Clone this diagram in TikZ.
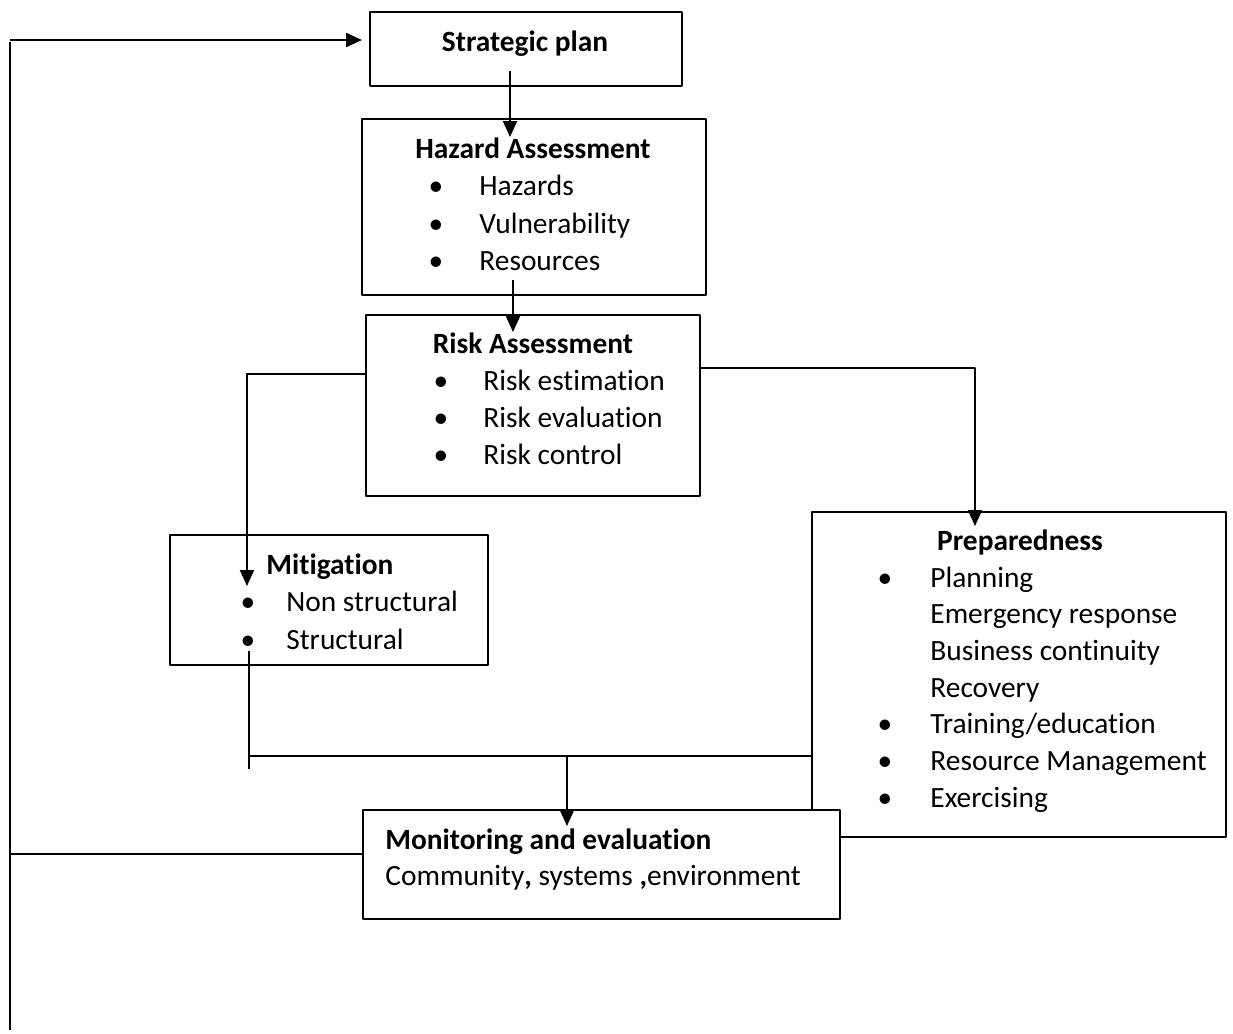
\documentclass[tikz,border=0pt]{standalone}
\usepackage{fontspec}
\setmainfont{Carlito}[Ligatures=NoCommon]
\usetikzlibrary{arrows.meta}

\begin{document}
\begin{tikzpicture}[line join=round,>={Triangle[length=8pt,width=7pt]},x=0.5pt,y=-0.5pt,
    box/.style={draw,line width=1pt,inner sep=0pt,fill=white},
    txt/.style={anchor=west,inner sep=0pt,font=\fontsize{14.7}{17}\selectfont,text height=12pt,text depth=3pt},
    ttl/.style={txt,font=\fontsize{14.7}{17}\selectfont\bfseries},
    bul/.style={inner sep=0pt,font=\fontsize{14.7}{17}\selectfont,text height=12pt,text depth=3pt},
    con/.style={line width=1pt}]
     \path[use as bounding box,fill=white] (0,0) rectangle (1233,1034); % Rahmen

     % Kaesten
     \node[box,minimum width=156pt,minimum height=37pt] (strat) at (526,49) {};
     \node[box,minimum width=172pt,minimum height=88pt] (haz) at (534,207) {};
     \node[box,minimum width=167pt,minimum height=90.5pt] (risk) at (533,405.5) {};
     \node[box,minimum width=159pt,minimum height=65pt] (mit) at (329,600) {};
     \node[box,minimum width=207pt,minimum height=162.5pt] (prep) at (1019,674.5) {};
     \node[box,minimum width=238.5pt,minimum height=54.5pt] (mon) at (601.5,864.5) {};

     % Texte
     \node[ttl,anchor=center] (stratT) at (525,42) {Strategic plan};
     \node[ttl,anchor=center] (hazT) at (533,149) {Hazard Assessment};
     \foreach \t [count=\i] in {Hazards,Vulnerability,Resources}
     {\node[bul] (hazB\i) at (436,149+37.5*\i) {\textbullet};
      \node[txt] (hazI\i) at (479,149+37.5*\i) {\t};}
     \node[ttl,anchor=center] (riskT) at (533,344) {Risk Assessment};
     \foreach \t [count=\i] in {Risk estimation,Risk evaluation,Risk control}
     {\node[bul] (riskB\i) at (441,344.5+37*\i) {\textbullet};
      \node[txt] (riskI\i) at (483,344.5+37*\i) {\t};}
     \node[ttl] (mitT) at (266,565) {Mitigation};
     \foreach \t [count=\i] in {Non structural,Structural}
     {\node[bul] (mitB\i) at (248,564+38*\i) {\textbullet};
      \node[txt] (mitI\i) at (286,564+38*\i) {\t};}
     \node[ttl,anchor=center] (prepT) at (1020,541) {Preparedness};
     \foreach \t [count=\i] in {Planning,Emergency response,Business continuity,Recovery,Training/education,Resource Management,Exercising}
     \node[txt] (prepI\i) at (930,541.3+36.7*\i) {\t};
     \foreach \i in {1,5,6,7}
     \node[bul] (prepB\i) at (885,541.3+36.7*\i) {\textbullet};
     \node[ttl] (monT) at (385,840) {Monitoring and evaluation};
     \node[txt] (monI) at (385,876) {Community\textbf{,} systems \textbf{,}environment};

     % Verbindungen
     \draw[con,->] ([xshift=-8pt,yshift=8pt]strat.south) -- ([xshift=-12pt,yshift=-9.5pt]haz.north);
     \draw[con,->] ([xshift=-10.5pt,yshift=8pt]haz.south) -- ([xshift=-10pt,yshift=-9pt]risk.north);
     \draw[con,->] ([yshift=16pt]risk.west) -| ([xshift=-41pt,yshift=-26pt]mit.north); % links
     \draw[con,->] ([yshift=18.75pt]risk.east) -| ([xshift=-22pt,yshift=-7.5pt]prep.north); % rechts
     \coordinate (junc) at ([xshift=-40pt,yshift=-45pt]mit.south);
     \draw[con] ([xshift=-40pt,yshift=7.5pt]mit.south) -- ++(0,-59pt);
     \draw[con,line width=1.2pt] (junc) -- (junc -| prep.west);
     \draw[con,->] ([xshift=-17.25pt]junc -| mon.north) -- ([xshift=-17.25pt,yshift=-8.5pt]mon.north);

     % Rueckkopplung
     \coordinate (fbtop) at (10,40);
     \coordinate (fbbot) at (10,1030);
     \draw[con,line width=1.2pt] (fbbot) -- ([yshift=-1pt]fbtop);
     \draw[con,line width=1.2pt,->,shorten >=3.5pt] (fbtop) -- (fbtop -| strat.west);
     \draw[con] ([yshift=5.25pt]mon.west) -- ([yshift=5.25pt]mon.west -| fbtop);
\end{tikzpicture}
\end{document}
